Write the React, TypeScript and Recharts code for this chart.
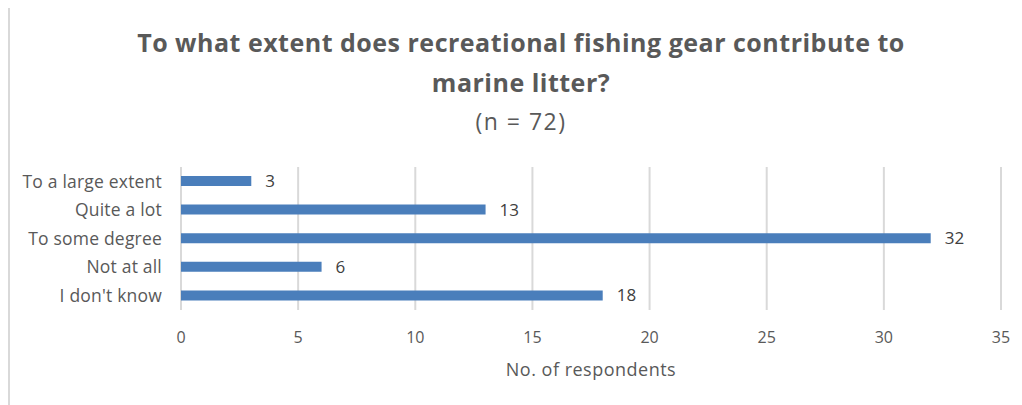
import { BarChart, Bar, XAxis, YAxis, CartesianGrid, LabelList } from "recharts";

const CATEGORIES = ["To a large extent", "Quite a lot", "To some degree", "Not at all", "I don't know"];
const RESPONDENTS = [3, 13, 32, 6, 18];
const X_TICKS = [0, 5, 10, 15, 20, 25, 30, 35];

const TITLE_LINES = ["To what extent does recreational fishing gear contribute to", "marine litter?"];
const SUBTITLE = "(n = 72)";
const X_LABEL = "No. of respondents";

const FONT = "'Open Sans', sans-serif";
const TEXT = "#595959";
const BAR = "#4a7ebb";
const GRID = "#d9d9d9";

const data = CATEGORIES.map((name, i) => ({ name, value: RESPONDENTS[i] }));

export default function App() {
  return (
    <div
      style={{
        position: "relative",
        width: 1014,
        height: 400,
        marginTop: -3,
        borderLeft: `2px solid ${GRID}`,
        borderTop: `2px solid ${GRID}`,
        boxSizing: "border-box",
        fontFamily: FONT,
        background: "#fff",
      }}
    >
      {/* title */}
      <div
        style={{
          position: "absolute",
          left: 0,
          width: 1022,
          top: 15,
          textAlign: "center",
          color: TEXT,
          fontSize: 25,
          fontWeight: 700,
          letterSpacing: 0.5,
          lineHeight: "40px",
        }}
      >
        {TITLE_LINES.map((t) => (
          <div key={t}>{t}</div>
        ))}
        <div style={{ fontWeight: 400, fontSize: 23, letterSpacing: 1.5, lineHeight: "38px" }}>{SUBTITLE}</div>
      </div>

      <BarChart
        width={1012}
        height={398}
        data={data}
        layout="vertical"
        barSize={10}
        margin={{ top: 160, right: 21, bottom: 25, left: 6 }}
        style={{ position: "absolute", left: 0, top: 0 }}
      >
        <CartesianGrid horizontal={false} vertical stroke={GRID} strokeWidth={2} />
        <XAxis
          type="number"
          domain={[0, 35]}
          ticks={X_TICKS}
          axisLine={false}
          tickLine={false}
          tickMargin={16}
          tick={{ fill: TEXT, fontSize: 16, fontFamily: FONT }}
          height={70}
          label={{
            value: X_LABEL,
            position: "insideBottom",
            offset: 4,
            fill: TEXT,
            fontSize: 18,
            fontFamily: FONT,
            letterSpacing: 0.5,
          }}
        />
        <YAxis
          type="category"
          dataKey="name"
          width={165}
          axisLine={false}
          tickLine={false}
          tickMargin={13}
          tick={{ fill: TEXT, fontSize: 17.5, fontFamily: FONT, letterSpacing: 0.2 }}
        />
        <Bar dataKey="value" fill={BAR} isAnimationActive={false}>
          <LabelList dataKey="value" position="right" offset={14} fill="#404040" fontSize={17} fontFamily={FONT} />
        </Bar>
      </BarChart>
    </div>
  );
}
